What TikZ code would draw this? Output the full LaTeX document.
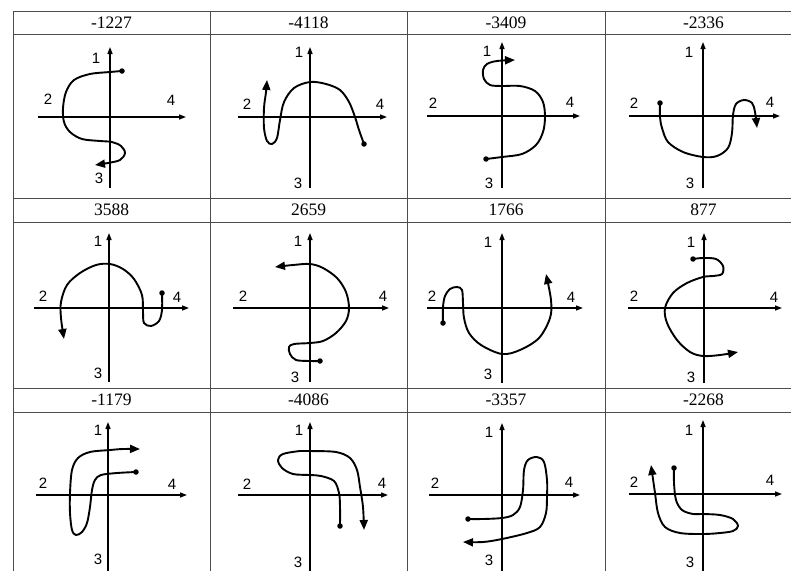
\documentclass[tikz,border=0pt]{standalone}
\usepackage{fontspec}
\setmainfont{Liberation Serif}
\newfontfamily\lblfont{Liberation Sans}
\usetikzlibrary{arrows.meta}
\tikzset{
  gridline/.style={line width=1pt, black!70},
  axisline/.style={line width=1.3pt, -{Triangle[length=7pt,width=5pt]}},
  curve/.style={line width=1.9pt, line cap=round, line join=round},
  curvearrow/.style={curve, -{Triangle[length=10pt,width=8pt]}},
  dotmark/.style={circle, fill=black, inner sep=0pt, minimum size=5.5pt},
  axlbl/.style={font=\lblfont\fontsize{15}{15}\selectfont, inner sep=0pt},
  header/.style={font=\fontsize{17.5}{18}\selectfont, inner sep=0pt},
}
\begin{document}
\begin{tikzpicture}[x=1pt, y=-1pt]
\useasboundingbox (0,0) rectangle (791,570);
\clip (0,0) rectangle (791,570);
% table grid
\foreach \yy in {11.5,34,198,222,388,412}
  \draw[gridline] (13,\yy) -- (800,\yy);
\foreach \xx in {13,210,407,605}
  \draw[gridline] (\xx,11.5) -- (\xx,580);
% headers
\foreach \n/\cx/\cy/\t in {
  h1/111.5/23/-1227, h2/308.5/23/-4118, h3/506/23/-3409, h4/703.5/23/-2336,
  h5/111.5/210/3588, h6/308.5/210/2659, h7/506/210/1766, h8/703.5/210/877,
  h9/111.5/400/-1179, h10/308.5/400/-4086, h11/506/400/-3357, h12/703.5/400/-2268}
  \node[header] (\n) at (\cx,\cy) {\t};
% axes
\foreach \n/\ox/\oy/\xl/\xr/\yt/\yb in {
  1/110/117/38/186/47/188, 2/310/117/238/387/47/188, 3/502/116/427/580/42/188, 4/703/116/629/780/42/188,
  5/109/308/34/189/233/382, 6/310/308/233/389/233/382, 7/502/308/427/583/233/383, 8/704/308/628/782/233/383,
  9/108/495/36/187/422/580, 10/310/495/238/388/422/580, 11/502/495/429/580/423/580, 12/703/494/629/782/420/580}
{
  \coordinate (hl\n) at (\xl,\oy);
  \coordinate (hr\n) at (\xr,\oy);
  \coordinate (vt\n) at (\ox,\yt);
  \coordinate (vb\n) at (\ox,\yb);
  \draw[axisline] (hl\n) -- (hr\n);
  \draw[axisline] (vb\n) -- (vt\n);
}
% axis labels
\foreach \n/\ax/\ay/\bx/\by/\cx/\cy/\dx/\dy in {
  1/96/58/48/99/171/100/99/178, 2/299/52/247/104/380/104/298/183,
  3/487/51/433/103/570/102/489/183, 4/689/52/634/103/770/102/690/183,
  5/98/241/43/296/177/297/98/373, 6/298/241/243/296/383/296/295/377,
  7/488/242/432/296/571/297/488/374, 8/691/242/634/296/774/297/691/377,
  9/98/430/43/483/172/484/98/559, 10/299/430/247/484/382/483/298/562,
  11/489/432/435/483/569/482/489/560, 12/689/430/634/482/770/480/690/562}
{
  \node[axlbl] (a\n) at (\ax,\ay) {1};
  \node[axlbl] (b\n) at (\bx,\by) {2};
  \node[axlbl] (c\n) at (\cx,\cy) {4};
  \node[axlbl] (d\n) at (\dx,\dy) {3};
}
% curves
\tikzset{plotsm/.style={smooth, tension=0.55}}
% 1: -1227
\draw[curvearrow] plot[plotsm] coordinates {(122,71) (110,72) (90,74) (74,80) (66,92) (63,108) (64,122) (70,132) (82,139) (100,141) (112,142) (121,146) (125,153) (120,160) (108,163) (95,165)};
\node[dotmark] (s1) at (122,71) {};
% 2: -4118
\draw[curvearrow] plot[plotsm] coordinates {(364,144) (359,130) (355,117) (349,102) (340,90) (326,84) (310,82) (294,88) (284,102) (280,120) (277,138) (272,144) (267,141) (264,128) (264,108) (266,92) (267,80)};
\node[dotmark] (s2) at (364,144) {};
% 3: -3409
\draw[curvearrow] plot[plotsm] coordinates {(486,159) (502,157) (522,154) (536,145) (543,132) (545,117) (543,102) (535,91) (520,86) (502,86) (490,85) (484,79) (483,70) (487,64) (497,61) (515,60)};
\node[dotmark] (s3) at (486,159) {};
% 4: -2336
\draw[curvearrow] plot[plotsm] coordinates {(660,103) (660,117) (662,128) (668,142) (683,152) (703,157) (717,156) (728,148) (732,133) (733,115) (736,104) (744,100) (752,103) (755,112) (757,128)};
\node[dotmark] (s4) at (660,103) {};
% 5: 3588
\draw[curvearrow] plot[plotsm] coordinates {(162,293) (162,310) (159,321) (151,326) (144,323) (143,312) (142,295) (134,279) (123,269) (110,264) (96,265) (80,273) (67,285) (61,302) (61,318) (64,339)};
\node[dotmark] (s5) at (162,293) {};
% 6: 2659
\draw[curvearrow] plot[plotsm] coordinates {(320,361) (310,361) (296,360) (290,354) (289,347) (294,344) (310,343) (323,341) (336,333) (346,321) (349,308) (346,292) (337,278) (323,268) (310,264) (293,265) (275,267)};
\node[dotmark] (s6) at (320,361) {};
% 7: 1766
\draw[curvearrow] plot[plotsm] coordinates {(443,323) (443,307) (445,296) (450,289) (457,287) (462,290) (463,303) (464,318) (469,333) (481,345) (502,354) (520,350) (539,338) (550,318) (551,300) (546,274)};
\node[dotmark] (s7) at (443,323) {};
% 8: 877
\draw[curvearrow] plot[plotsm] coordinates {(693,259) (703,258) (716,259) (723,266) (722,274) (713,276) (703,277) (687,283) (673,293) (665,308) (667,323) (677,340) (690,352) (703,356) (720,355) (738,352)};
\node[dotmark] (s8) at (693,259) {};
% 9: -1179
\draw[curvearrow] plot[plotsm] coordinates {(136,472) (117,473) (101,475) (95,480) (92,490) (90,507) (87,523) (82,532) (76,535) (72,530) (70,513) (70,493) (72,470) (78,458) (90,452) (110,450) (123,449) (140,449)};
\node[dotmark] (s9) at (136,472) {};
% 10: -4086
\draw[curvearrow] plot[plotsm] coordinates {(340,526) (340,507) (339,493) (334,481) (321,476) (310,475) (293,474) (282,468) (278,460) (283,454) (300,451) (310,451) (336,452) (350,458) (357,470) (360,487) (363,507) (364,530)};
\node[dotmark] (s10) at (340,526) {};
% 11: -3357
\draw[curvearrow] plot[plotsm] coordinates {(468,519) (483,519) (502,518) (513,515) (520,507) (523,490) (524,470) (528,460) (537,457) (544,462) (547,480) (547,497) (546,513) (540,527) (527,533) (502,539) (483,542) (463,542)};
\node[dotmark] (s11) at (468,519) {};
% 12: -2268
\draw[curvearrow] plot[plotsm] coordinates {(674,468) (674,483) (676,500) (682,510) (693,514) (703,514) (720,515) (733,519) (738,526) (733,531) (720,533) (703,534) (680,533) (665,527) (658,513) (655,493) (651,465)};
\node[dotmark] (s12) at (674,468) {};
\end{tikzpicture}
\end{document}
